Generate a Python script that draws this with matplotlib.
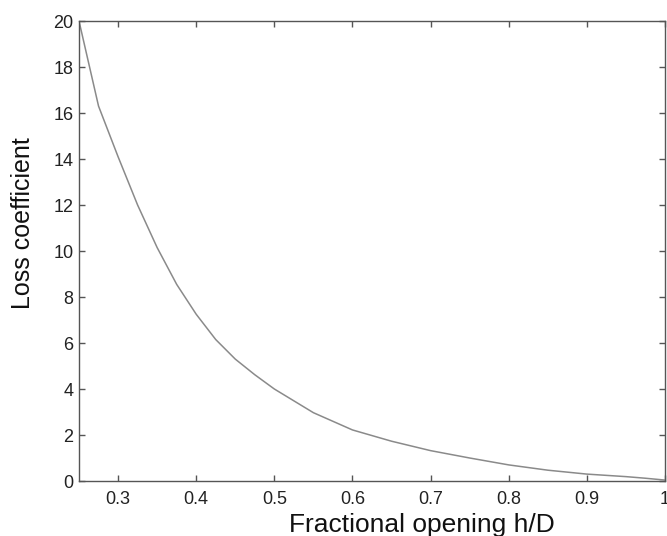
import numpy as np
import matplotlib
matplotlib.use("Agg")
import matplotlib.pyplot as plt

plt.rcParams["font.family"] = ["Liberation Sans", "DejaVu Sans"]

# Loss coefficient vs fractional opening
opening = [0.25, 0.275, 0.30, 0.325, 0.35, 0.375, 0.40, 0.425, 0.45, 0.475,
           0.50, 0.55, 0.60, 0.65, 0.70, 0.75, 0.80, 0.85, 0.90, 0.95,
           0.975, 1.0]
loss = [20.0, 16.3, 14.1, 12.0, 10.15, 8.55, 7.25, 6.15, 5.3, 4.62,
        4.0, 2.97, 2.22, 1.73, 1.32, 1.0, 0.70, 0.47, 0.30, 0.19,
        0.12, 0.04]

xticks = [0.3, 0.4, 0.5, 0.6, 0.7, 0.8, 0.9, 1.0]
xticklabels = ["0.3", "0.4", "0.5", "0.6", "0.7", "0.8", "0.9", "1"]
yticks = list(range(0, 21, 2))

fig = plt.figure(figsize=(6.67, 5.36), dpi=100)
ax = fig.add_axes([79 / 667, 55 / 536, 586 / 667, 460 / 536])

ax.plot(opening, loss, color="#8a8a8a", lw=1.1)

ax.set_xlim(0.25, 1.0)
ax.set_ylim(0, 20)
ax.set_xticks(xticks)
ax.set_xticklabels(xticklabels)
ax.set_yticks(yticks)

for s in ax.spines.values():
    s.set_color("#555555")
    s.set_linewidth(1.0)

ax.tick_params(direction="in", length=4, width=1, color="#555555",
               top=True, right=True, labelsize=13, labelcolor="#222222")
ax.tick_params(axis="x", pad=7)
ax.tick_params(axis="y", pad=4)

fig.text(23 / 667, 1 - 223 / 536, "Loss coefficient", rotation=90,
         ha="center", va="center", fontsize=18, color="#111111")
fig.text(422 / 667, 1 - 532 / 536, "Fractional opening h/D",
         ha="center", va="baseline", fontsize=19, color="#111111")

fig.savefig("out.png", dpi=100)
